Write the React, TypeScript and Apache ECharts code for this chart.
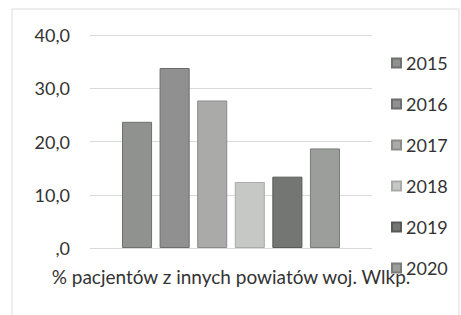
import React, { useEffect, useRef } from "react";
import * as echarts from "echarts";

const years = ["2015", "2016", "2017", "2018", "2019", "2020"];
const values = [23.7, 33.8, 27.7, 12.4, 13.4, 18.7];
const colors = ["#909290", "#8f908f", "#aaaba9", "#c6c8c6", "#747674", "#9c9e9c"];
const borders = ["#6f716f", "#6c6d6c", "#8a8b8a", "#a9aaa9", "#585a58", "#7a7c7a"];
const categories = [""];
const axisName = "% pacjentów z innych powiatów woj. Wlkp.";

const FONT = "Lato";

export default function App() {
  const ref = useRef<HTMLDivElement>(null);
  useEffect(() => {
    if (!ref.current) return;
    const chart = echarts.init(ref.current, undefined, { renderer: "svg" });
    chart.setOption({
      animation: false,
      backgroundColor: "#ffffff",
      textStyle: { fontFamily: FONT },
      grid: { left: 90, right: 89, top: 35, bottom: 67 },
      graphic: [
        {
          type: "rect",
          shape: { x: 12, y: 9, width: 447, height: 320 },
          style: { fill: "none", stroke: "#dcdcdc", lineWidth: 1 },
          z: -1,
        },
      ],
      legend: {
        orient: "vertical",
        left: 386,
        top: 48,
        itemWidth: 9,
        itemHeight: 9,
        itemGap: 21,
        icon: "rect",
        data: years,
        textStyle: { fontFamily: FONT, fontSize: 18, color: "#333333", lineHeight: 20 },
      },
      xAxis: {
        type: "category",
        data: categories,
        axisLine: { show: false },
        axisTick: { show: false },
        axisLabel: { show: false },
        name: axisName,
        nameLocation: "middle",
        nameGap: 19,
        nameTextStyle: { fontFamily: FONT, fontSize: 19, color: "#333333", verticalAlign: "top" },
      },
      yAxis: {
        type: "value",
        min: 0,
        max: 40,
        interval: 10,
        axisLine: { show: false },
        axisTick: { show: false },
        splitLine: { lineStyle: { color: "#d9d9d9", width: 1 } },
        axisLabel: {
          margin: 20,
          fontFamily: FONT,
          fontSize: 18,
          color: "#333333",
          formatter: (v: number) => (v === 0 ? ",0" : v.toFixed(1).replace(".", ",")),
        },
      },
      series: years.map((y, i) => ({
        name: y,
        type: "bar",
        data: [values[i]],
        barGap: "25%",
        barCategoryGap: "22.7%",
        itemStyle: { color: colors[i], borderColor: borders[i], borderWidth: 1 },
      })),
    });
    return () => chart.dispose();
  }, []);
  return (
    <div
      ref={ref}
      style={{ position: "fixed", left: 0, top: 0, width: 461, height: 315 }}
    />
  );
}
